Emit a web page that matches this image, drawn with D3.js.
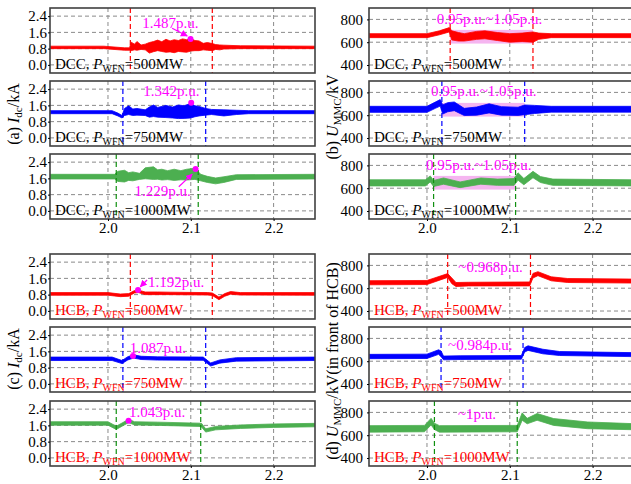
<!DOCTYPE html>
<html>
<head>
<meta charset="utf-8">
<script src="https://cdn.jsdelivr.net/npm/d3@7"></script>
<style>
body { margin: 0; background: #fff; }
svg text { font-family: "Times New Roman", "Liberation Serif", "DejaVu Serif", serif; }
</style>
</head>
<body>
<svg id="chart" width="631" height="484"></svg>
<script>
const xTicks = [2.0, 2.1, 2.2]
const iTicks = [0.0, 0.8, 1.6, 2.4]
const uTicks = [400, 600, 800]
const tDomain = [1.93, 2.25]
const iDomain = [-0.4, 2.8]
const uDomain = [330, 900]

const powers = ["500MW", "750MW", "1000MW"]
const colors = ["#ff0000", "#0000ff", "#4caf50"]
const eventColors = ["#ff0000", "#0000ff", "#109010"]

// envelope of each trace: [t, low, high]
const dccI500 = [
  [1.93, 0.80, 0.92], [1.995, 0.80, 0.92], [2.02, 0.72, 0.84], [2.026, 0.72, 0.84],
  [2.028, 0.70, 1.12], [2.032, 0.74, 1.02], [2.035, 0.72, 1.15], [2.04, 0.76, 0.98],
  [2.045, 0.74, 1.02], [2.05, 0.58, 1.10], [2.055, 0.65, 1.15], [2.06, 0.70, 1.22],
  [2.065, 0.66, 1.14], [2.07, 0.62, 1.26], [2.075, 0.64, 1.18], [2.08, 0.60, 1.24],
  [2.085, 0.66, 1.20], [2.09, 0.64, 1.28], [2.095, 0.62, 1.24], [2.1, 0.68, 1.30],
  [2.105, 0.70, 1.20], [2.11, 0.70, 1.18], [2.115, 0.74, 1.06], [2.12, 0.72, 1.10],
  [2.126, 0.70, 1.05], [2.13, 0.76, 1.00], [2.135, 0.74, 0.98], [2.14, 0.78, 0.97],
  [2.16, 0.80, 0.94], [2.25, 0.80, 0.92]
]
const dccI750 = [
  [1.93, 1.19, 1.34], [2.005, 1.19, 1.34], [2.012, 1.08, 1.22], [2.017, 0.98, 1.10],
  [2.02, 1.10, 1.45], [2.025, 1.15, 1.58], [2.03, 1.10, 1.42], [2.035, 1.12, 1.45],
  [2.045, 1.10, 1.38], [2.05, 1.02, 1.52], [2.055, 1.05, 1.62], [2.06, 1.02, 1.50],
  [2.07, 1.00, 1.60], [2.078, 0.98, 1.52], [2.085, 0.95, 1.62], [2.092, 0.96, 1.58],
  [2.1, 0.98, 1.70], [2.105, 1.04, 1.58], [2.11, 1.08, 1.55], [2.118, 1.12, 1.45],
  [2.125, 1.15, 1.40], [2.14, 1.08, 1.38], [2.155, 1.15, 1.36], [2.17, 1.19, 1.34],
  [2.25, 1.19, 1.34]
]
const dccI1000 = [
  [1.93, 1.57, 1.80], [2.008, 1.57, 1.80], [2.012, 1.45, 1.95], [2.02, 1.42, 2.00],
  [2.025, 1.50, 1.88], [2.03, 1.48, 1.92], [2.038, 1.55, 1.85], [2.045, 1.58, 2.12],
  [2.055, 1.55, 2.17], [2.06, 1.56, 2.02], [2.065, 1.52, 2.05], [2.072, 1.54, 1.98],
  [2.08, 1.50, 2.05], [2.088, 1.53, 1.98], [2.095, 1.52, 2.05], [2.105, 1.55, 2.10],
  [2.112, 1.48, 1.80], [2.12, 1.40, 1.70], [2.13, 1.33, 1.62], [2.14, 1.40, 1.68],
  [2.155, 1.55, 1.78], [2.25, 1.57, 1.80]
]
const dccU500 = [
  [1.93, 640, 675], [2.0, 640, 675], [2.015, 665, 700], [2.027, 690, 728],
  [2.03, 620, 700], [2.038, 610, 685], [2.045, 610, 675], [2.06, 625, 695],
  [2.07, 630, 700], [2.085, 615, 685], [2.1, 600, 675], [2.115, 605, 680],
  [2.128, 600, 690], [2.135, 625, 680], [2.15, 640, 675], [2.25, 640, 675]
]
const dccU750 = [
  [1.93, 625, 678], [2.0, 625, 678], [2.01, 660, 715], [2.016, 680, 737],
  [2.019, 610, 690], [2.025, 630, 710], [2.033, 640, 716], [2.045, 597, 660],
  [2.06, 600, 672], [2.075, 620, 700], [2.09, 600, 675], [2.11, 598, 670],
  [2.118, 605, 690], [2.13, 615, 686], [2.15, 627, 678], [2.25, 627, 678]
]
const dccU1000 = [
  [1.93, 620, 674], [1.998, 620, 674], [2.004, 655, 708], [2.008, 615, 668],
  [2.02, 635, 690], [2.04, 605, 655], [2.065, 635, 690], [2.085, 625, 680],
  [2.105, 625, 685], [2.11, 670, 735], [2.117, 630, 685], [2.128, 692, 748],
  [2.137, 650, 702], [2.152, 625, 680], [2.25, 620, 674]
]
const hcbI500 = [
  [1.93, 0.77, 0.90], [2.0, 0.77, 0.90], [2.015, 0.70, 0.83], [2.025, 0.72, 0.85],
  [2.032, 0.88, 1.00], [2.037, 0.90, 1.02], [2.045, 0.80, 0.93], [2.06, 0.80, 0.93],
  [2.075, 0.80, 0.92], [2.12, 0.78, 0.90], [2.126, 0.76, 0.88], [2.134, 0.55, 0.68],
  [2.141, 0.72, 0.85], [2.148, 0.82, 0.95], [2.16, 0.78, 0.90], [2.25, 0.77, 0.90]
]
const hcbI750 = [
  [1.93, 1.15, 1.32], [2.005, 1.15, 1.32], [2.017, 1.00, 1.15], [2.024, 1.18, 1.34],
  [2.031, 1.27, 1.43], [2.04, 1.20, 1.36], [2.06, 1.17, 1.33], [2.115, 1.16, 1.32],
  [2.124, 0.88, 1.03], [2.135, 1.02, 1.18], [2.155, 1.12, 1.29], [2.25, 1.15, 1.32]
]
const hcbI1000 = [
  [1.93, 1.61, 1.78], [2.0, 1.61, 1.78], [2.01, 1.40, 1.56], [2.018, 1.58, 1.74],
  [2.025, 1.74, 1.90], [2.032, 1.62, 1.78], [2.06, 1.60, 1.76], [2.11, 1.55, 1.71],
  [2.113, 1.52, 1.70], [2.118, 1.27, 1.43], [2.13, 1.38, 1.55], [2.16, 1.45, 1.62],
  [2.2, 1.50, 1.67], [2.25, 1.53, 1.70]
]
const hcbU500 = [
  [1.93, 630, 666], [2.0, 632, 668], [2.025, 695, 728], [2.03, 640, 690],
  [2.035, 615, 650], [2.05, 620, 652], [2.124, 620, 655], [2.128, 690, 730],
  [2.134, 710, 745], [2.15, 665, 700], [2.17, 650, 685], [2.25, 645, 680]
]
const hcbU750 = [
  [1.93, 622, 660], [2.0, 624, 662], [2.014, 660, 700], [2.017, 640, 690],
  [2.02, 612, 645], [2.04, 615, 648], [2.114, 618, 650], [2.118, 680, 720],
  [2.122, 695, 735], [2.14, 665, 705], [2.16, 650, 685], [2.25, 640, 675]
]
const hcbU1000 = [
  [1.93, 627, 684], [1.997, 630, 686], [2.005, 690, 748], [2.009, 650, 705],
  [2.015, 627, 684], [2.109, 630, 686], [2.115, 731, 796], [2.121, 700, 748],
  [2.133, 731, 790], [2.153, 686, 746], [2.194, 657, 716], [2.25, 648, 701]
]

// fault and clearing moments
const dccIEvents = [[2.027, 2.126], [2.018, 2.118], [2.010, 2.109]]
const dccUEvents = [[2.028, 2.128], [2.018, 2.118], [2.008, 2.107]]
const hcbIEvents = [[2.027, 2.126], [2.018, 2.118], [2.010, 2.112]]
const hcbUEvents = [[2.025, 2.125], [2.017, 2.116], [2.009, 2.109]]

// 0.95~1.05 p.u. band (kV)
const tolBand = [588, 708]

// annotations
const dccIText = ["1.487p.u.", "1.342p.u.", "1.229p.u."]
const dccITextPos = [[2.0755, 1.84], [2.0767, 2.04], [2.066, 0.71]]
const dccIPeaks = [[2.0997, 1.27], [2.1005, 1.73], [2.1058, 2.06]]
const dccIArrows = [[2.0775, 1.80, 2.0957, 1.42], null, [2.0855, 1.19, 2.1017, 1.81]]
const hcbIText = ["1.192p.u.", "1.087p.u.", "1.043p.u."]
const hcbITextPos = [[2.0823, 1.20], [2.0603, 1.52], [2.0593, 2.01]]
const hcbIPeaks = [[2.0363, 1.03], [2.0302, 1.37], [2.0249, 1.83]]
const hcbIArrows = [[2.0472, 1.52, 2.0391, 1.19], null, null]
const dccUText = ["0.95p.u.~1.05p.u.", "0.95p.u.~1.05p.u.", "0.95p.u.~1.05p.u."]
const dccUTextPos = [[2.0755, 757], [2.0686, 771], [2.0625, 757]]
const hcbUText = ["~0.968p.u.", "~0.984p.u.", "~1p.u."]
const hcbUTextPos = [[2.0767, 740], [2.0643, 695], [2.0605, 740]]

const W = 265, H = 65
const magenta = "#ff00ff"
const serif = "'Times New Roman', 'Liberation Serif', 'DejaVu Serif', serif"
const svg = d3.select("#chart")

svg.append("defs").append("marker")
    .attr("id", "arrow")
    .attr("viewBox", "0 0 10 10")
    .attr("refX", 9).attr("refY", 5)
    .attr("markerWidth", 7).attr("markerHeight", 7)
    .attr("markerUnits", "userSpaceOnUse")
    .attr("orient", "auto")
  .append("path")
    .attr("d", "M0,0L10,5L0,10z")
    .attr("fill", magenta)

let clipCount = 0

function drawPanel(p) {
    const x = d3.scaleLinear().domain(tDomain).range([p.left, p.left + W])
    const y = d3.scaleLinear().domain(p.yDomain).range([p.top + H, p.top])
    const g = svg.append("g")
    const clipId = "clip" + (clipCount++)
    g.append("clipPath").attr("id", clipId).append("rect")
        .attr("x", p.left).attr("y", p.top).attr("width", W).attr("height", H)

    // grid
    g.append("g").selectAll("line").data(xTicks).join("line")
        .attr("x1", d => x(d)).attr("x2", d => x(d))
        .attr("y1", p.top).attr("y2", p.top + H)
        .attr("stroke", "#8a8a8a").attr("stroke-dasharray", "4,3")
    g.append("g").selectAll("line").data(p.ticks).join("line")
        .attr("x1", p.left).attr("x2", p.left + W)
        .attr("y1", d => y(d)).attr("y2", d => y(d))
        .attr("stroke", "#8a8a8a").attr("stroke-dasharray", "4,3")

    const plot = g.append("g").attr("clip-path", `url(#${clipId})`)

    if (p.pink) {
        plot.append("rect")
            .attr("x", x(p.events[0])).attr("width", x(p.events[1]) - x(p.events[0]))
            .attr("y", y(tolBand[1])).attr("height", y(tolBand[0]) - y(tolBand[1]))
            .attr("fill", "#f5b5f0")
    }

    const area = d3.area()
        .x(d => x(d[0]))
        .y0(d => y(d[1]))
        .y1(d => y(d[2]))
    plot.append("path").datum(p.data)
        .attr("d", area)
        .attr("fill", p.color)
        .attr("stroke", p.color)
        .attr("stroke-width", 0.8)
        .attr("stroke-linejoin", "round")

    plot.selectAll(".ev").data(p.events).join("line")
        .attr("x1", d => x(d)).attr("x2", d => x(d))
        .attr("y1", p.top).attr("y2", p.top + H)
        .attr("stroke", p.eventColor).attr("stroke-width", 1.2)
        .attr("stroke-dasharray", "5,3")

    // annotation
    if (p.arrow) {
        g.append("line")
            .attr("x1", x(p.arrow[0])).attr("y1", y(p.arrow[1]))
            .attr("x2", x(p.arrow[2])).attr("y2", y(p.arrow[3]))
            .attr("stroke", magenta).attr("stroke-width", 1.2)
            .attr("marker-end", "url(#arrow)")
    }
    if (p.peak) {
        g.append("circle")
            .attr("cx", x(p.peak[0])).attr("cy", y(p.peak[1]))
            .attr("r", 3).attr("fill", magenta)
    }
    g.append("text")
        .attr("x", x(p.textPos[0])).attr("y", y(p.textPos[1]))
        .attr("text-anchor", "middle")
        .attr("font-family", serif)
        .attr("font-size", 15)
        .attr("fill", magenta)
        .text(p.text)

    // case label
    const lab = g.append("text")
        .attr("x", p.left + 5).attr("y", p.top + H - 4)
        .attr("font-family", serif)
        .attr("font-size", 15)
        .attr("fill", p.labelColor)
    lab.append("tspan").text(p.scheme + ", ")
    lab.append("tspan").attr("font-style", "italic").text("P")
    lab.append("tspan").attr("font-size", 10).attr("dy", 3).text("WFN")
    lab.append("tspan").attr("dy", -3).text("=" + p.power)

    g.append("rect")
        .attr("x", p.left).attr("y", p.top).attr("width", W).attr("height", H)
        .attr("fill", "none").attr("stroke", "#404040").attr("stroke-width", 1.6)

    const yAxis = g.append("g")
        .attr("transform", `translate(${p.left},0)`)
        .call(d3.axisLeft(y).tickValues(p.ticks).tickFormat(p.format).tickSize(2).tickPadding(p.pad))
    yAxis.select(".domain").remove()
    yAxis.attr("font-family", serif)
    yAxis.selectAll("text").attr("font-size", 15).attr("fill", "#000")

    if (p.bottom) {
        const xAxis = g.append("g")
            .attr("transform", `translate(0,${p.top + H})`)
            .call(d3.axisBottom(x).tickValues(xTicks).tickFormat(d3.format(".1f")).tickSize(2).tickPadding(1))
        xAxis.select(".domain").remove()
        xAxis.attr("font-family", serif)
        xAxis.selectAll("text").attr("font-size", 15).attr("fill", "#000")
    }
}

const topRows = [8, 81, 154]
const bottomRows = [254, 327, 401]

const sets = [
    { left: 50, rows: topRows, data: [dccI500, dccI750, dccI1000], events: dccIEvents, scheme: "DCC",
      yDomain: iDomain, ticks: iTicks, format: d3.format(".1f"), pad: 1,
      text: dccIText, textPos: dccITextPos, peaks: dccIPeaks, arrows: dccIArrows },
    { left: 369, rows: topRows, data: [dccU500, dccU750, dccU1000], events: dccUEvents, scheme: "DCC",
      yDomain: uDomain, ticks: uTicks, format: d3.format("d"), pad: 4, pink: true,
      text: dccUText, textPos: dccUTextPos, peaks: [null, null, null], arrows: [null, null, null] },
    { left: 50, rows: bottomRows, data: [hcbI500, hcbI750, hcbI1000], events: hcbIEvents, scheme: "HCB",
      yDomain: iDomain, ticks: iTicks, format: d3.format(".1f"), pad: 1,
      text: hcbIText, textPos: hcbITextPos, peaks: hcbIPeaks, arrows: hcbIArrows },
    { left: 369, rows: bottomRows, data: [hcbU500, hcbU750, hcbU1000], events: hcbUEvents, scheme: "HCB",
      yDomain: uDomain, ticks: uTicks, format: d3.format("d"), pad: 4,
      text: hcbUText, textPos: hcbUTextPos, peaks: [null, null, null], arrows: [null, null, null] }
]

sets.forEach(s => {
    s.rows.forEach((top, i) => {
        drawPanel({
            left: s.left, top, yDomain: s.yDomain, ticks: s.ticks, format: s.format, pad: s.pad,
            data: s.data[i], color: colors[i], events: s.events[i], eventColor: eventColors[i],
            pink: s.pink, scheme: s.scheme, power: powers[i],
            labelColor: s.scheme === "DCC" ? "#000" : "#ff0000",
            text: s.text[i], textPos: s.textPos[i], peak: s.peaks[i], arrow: s.arrows[i],
            bottom: i === 2
        })
    })
})

// y axis titles
function yTitle(cx, cy, tag, sym, sub, rest) {
    const t = svg.append("text")
        .attr("transform", `translate(${cx},${cy}) rotate(-90)`)
        .attr("text-anchor", "middle")
        .attr("font-family", serif)
        .attr("font-size", 16)
    t.append("tspan").text(tag + " ")
    t.append("tspan").attr("font-style", "italic").text(sym)
    t.append("tspan").attr("font-size", 11).attr("dy", 3).text(sub)
    t.append("tspan").attr("dy", -3).text(rest)
}
yTitle(19, 114, "(a)", "I", "dc", "/kA")
yTitle(338, 117, "(b)", "U", "MMC", "/kV")
yTitle(19, 359, "(c)", "I", "dc", "/kA")
yTitle(338, 361, "(d)", "U", "MMC", "/kV(in front of HCB)")
</script>
</body>
</html>
